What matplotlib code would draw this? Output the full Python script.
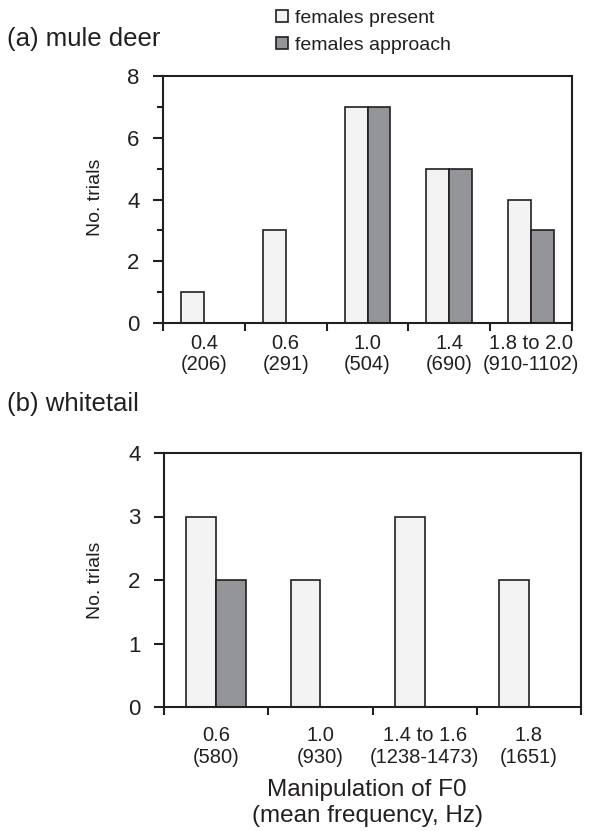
import matplotlib
matplotlib.use('Agg')
import matplotlib.pyplot as plt
import numpy as np

plt.rcParams['font.family'] = ['Liberation Sans', 'DejaVu Sans']
plt.rcParams['text.color'] = '#231f20'
plt.rcParams['xtick.color'] = '#231f20'
plt.rcParams['ytick.color'] = '#231f20'

# (a) mule deer
mule_labels = ['0.4\n(206)', '0.6\n(291)', '1.0\n(504)', '1.4\n(690)', '1.8 to 2.0\n(910-1102)']
mule_present = [1, 3, 7, 5, 4]
mule_approach = [0, 0, 7, 5, 3]

# (b) whitetail
white_labels = ['0.6\n(580)', '1.0\n(930)', '1.4 to 1.6\n(1238-1473)', '1.8\n(1651)']
white_present = [3, 2, 3, 2]
white_approach = [2, 0, 0, 0]

series_names = ['females present', 'females approach']
light = '#f3f3f3'
dark = '#939598'
edge = '#231f20'

W, H = 596, 831
fig = plt.figure(figsize=(W / 100, H / 100), dpi=100)

ax1 = fig.add_axes([163 / W, 1 - 323 / H, 409 / W, 247 / H])
ax2 = fig.add_axes([164 / W, 1 - 707 / H, 417 / W, 254 / H])


def draw_panel(ax, labels, present, approach, ymax, minor_y, bw, xpad):
    x = np.arange(len(labels))
    b1 = ax.bar(x - bw / 2, present, bw, color=light, edgecolor=edge, linewidth=1.2, zorder=2)
    b2 = ax.bar(x + bw / 2, approach, bw, color=dark, edgecolor=edge, linewidth=1.2, zorder=2)
    ax.set_xlim(-0.5, len(labels) - 0.5)
    ax.set_ylim(0, ymax)
    ax.set_xticks(x)
    ax.set_xticklabels(labels, fontsize=14.5, linespacing=1.15)
    ax.set_xticks(np.arange(len(labels) + 1) - 0.5, minor=True)
    ax.tick_params(axis='x', which='major', length=0, pad=xpad)
    ax.tick_params(axis='x', which='minor', length=6, width=1.5, direction='out')
    ax.set_yticks(np.arange(0, ymax + 1, 2 if minor_y else 1))
    if minor_y:
        ax.set_yticks(np.arange(1, ymax, 2), minor=True)
    ax.tick_params(axis='y', which='major', length=7, width=1.5, labelsize=16, pad=10)
    ax.tick_params(axis='y', which='minor', length=4, width=1.5)
    for s in ax.spines.values():
        s.set_linewidth(1.5)
        s.set_color(edge)
    return b1, b2


b1, b2 = draw_panel(ax1, mule_labels, mule_present, mule_approach, 8, True, 0.28, 8)
draw_panel(ax2, white_labels, white_present, white_approach, 4, False, 0.285, 14)

fig.text(95 / W, 1 - 197 / H, 'No. trials', rotation=90, ha='center', va='center', fontsize=14)
fig.text(95 / W, 1 - 580 / H, 'No. trials', rotation=90, ha='center', va='center', fontsize=14)

fig.text(7 / W, 1 - 39 / H, '(a) mule deer', ha='left', va='center', fontsize=18.5)
fig.text(7 / W, 1 - 404 / H, '(b) whitetail', ha='left', va='center', fontsize=18.5)

fig.text(367 / W, 1 - 803 / H, 'Manipulation of F0\n(mean frequency, Hz)', ha='center', va='center',
         fontsize=17.5, linespacing=1.25)

fig.legend([b1, b2], series_names, loc='upper left', bbox_to_anchor=(276 / W, 1 - 10 / H),
           frameon=False, fontsize=14, handlelength=0.6, handleheight=0.6, handletextpad=0.4,
           labelspacing=0.5, borderpad=0, borderaxespad=0)

fig.savefig('out.png', dpi=100)
